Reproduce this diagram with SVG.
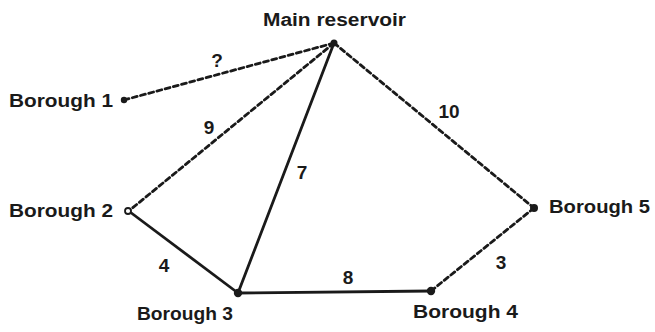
<svg xmlns="http://www.w3.org/2000/svg" width="655" height="332" viewBox="0 0 655 332">
<style>
.e{stroke:#1a1a1a;stroke-width:2.8;fill:none;stroke-linecap:round}
.d{stroke-dasharray:5 3.5}
.t{font-family:"Liberation Sans",Arial,sans-serif;font-weight:bold;font-size:17.5px;fill:#1a1a1a}
.w{font-family:"Liberation Sans",Arial,sans-serif;font-weight:bold;font-size:19px;fill:#1a1a1a;text-anchor:middle}
.n{fill:#1a1a1a}
</style>
<rect width="655" height="332" fill="#fff"/>
<g id="connectors">
<line class="e d" x1="334" y1="43" x2="124" y2="100"/>
<line class="e d" x1="334" y1="43" x2="130" y2="210"/>
<line class="e" x1="334" y1="43" x2="238" y2="293"/>
<line class="e d" x1="334" y1="43" x2="534" y2="208"/>
<line class="e" x1="130" y1="212" x2="238" y2="293"/>
<line class="e" x1="238" y1="293" x2="431" y2="291"/>
<line class="e d" x1="431" y1="291" x2="534" y2="208"/>
<text class="w" x="217" y="67">?</text>
<text class="w" x="209" y="134">9</text>
<text class="w" x="449" y="118">10</text>
<text class="w" x="302" y="179">7</text>
<text class="w" x="164" y="272">4</text>
<text class="w" x="348" y="284">8</text>
<text class="w" x="501" y="269">3</text>
</g>
<g id="main-reservoir">
<circle class="n" cx="334" cy="43" r="3.5"/>
<text class="t" x="263" y="26" textLength="143" lengthAdjust="spacingAndGlyphs">Main reservoir</text>
</g>
<g id="borough-1">
<circle class="n" cx="124" cy="100" r="3.2"/>
<text class="t" x="9" y="107" textLength="104" lengthAdjust="spacingAndGlyphs">Borough 1</text>
</g>
<g id="borough-2">
<circle cx="128" cy="211" r="3" fill="#fff" stroke="#1a1a1a" stroke-width="1.8"/>
<text class="t" x="9" y="217" textLength="104" lengthAdjust="spacingAndGlyphs">Borough 2</text>
</g>
<g id="borough-3">
<circle class="n" cx="238" cy="293" r="4.2"/>
<text class="t" x="137" y="320" textLength="96" lengthAdjust="spacingAndGlyphs">Borough 3</text>
</g>
<g id="borough-4">
<circle class="n" cx="431" cy="291" r="4.2"/>
<text class="t" x="413" y="318" textLength="105" lengthAdjust="spacingAndGlyphs">Borough 4</text>
</g>
<g id="borough-5">
<circle class="n" cx="534" cy="208" r="4"/>
<text class="t" x="549" y="213" textLength="101" lengthAdjust="spacingAndGlyphs">Borough 5</text>
</g>
</svg>
